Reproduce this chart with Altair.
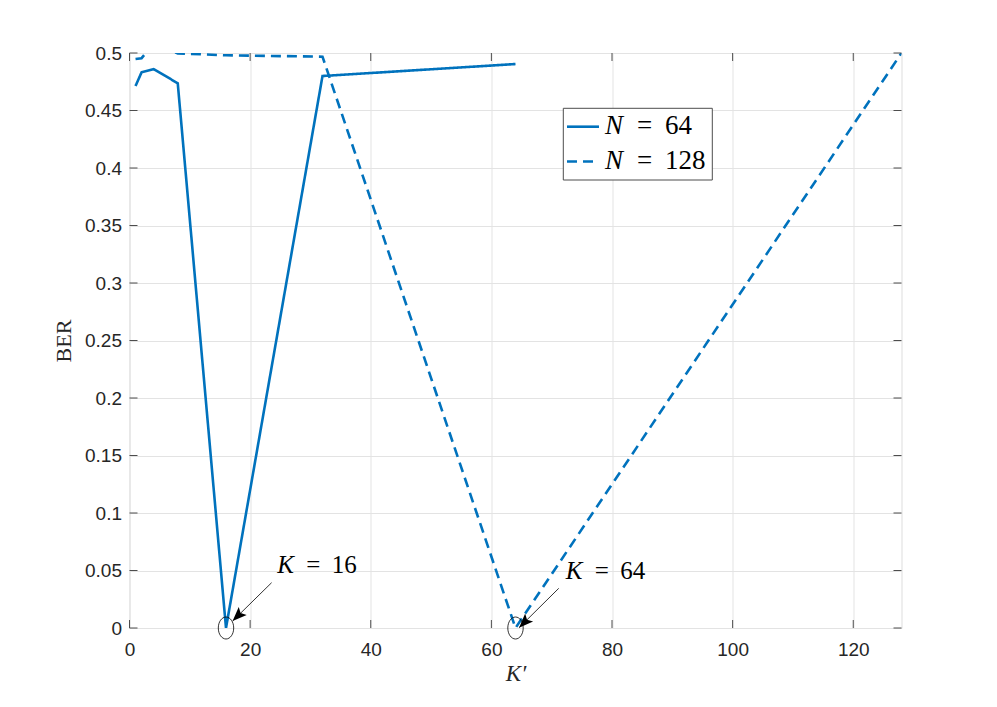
import altair as alt
import pandas as pd

# ---- data ----
k_64 = [1, 2, 4, 8, 16, 32, 64]
ber_64 = [0.4713, 0.4832, 0.4860, 0.4737, 0.0, 0.4800, 0.4904]
k_128 = [1, 2, 4, 8, 16, 32, 64, 128]
ber_128 = [0.4948, 0.4955, 0.508, 0.4997, 0.4980, 0.4968, 0.0, 0.5]
series = ["N = 64", "N = 128"]

x_ticks = [0, 20, 40, 60, 80, 100, 120]
y_ticks = [0, 0.05, 0.1, 0.15, 0.2, 0.25, 0.3, 0.35, 0.4, 0.45, 0.5]

# annotations
mark_k = [16, 64]
mark_ber = [0.0, 0.0]
note_k = [24.49, 72.33]
note_ber = [0.0474, 0.0430]
note_num = ["16", "64"]
tail_k = [23.56, 71.17]
tail_ber = [0.0394, 0.0345]
tip_k = [17.10, 64.59]
tip_ber = [0.0061, 0.0003]

legend_num = ["64", "128"]

# ---- styling ----
W, H = 772, 575
BLUE = "#0072BD"
AX = "#4d4d4d"
TXT = "#262626"
SANS = "Liberation Sans"
SERIF = "Liberation Serif"
LW = 2.6

xs = alt.Scale(domain=[0, 128], nice=False, zero=False)
ys = alt.Scale(domain=[0, 0.5], nice=False, zero=False)

df = pd.concat([
    pd.DataFrame({"x": k_64, "y": ber_64, "s": series[0]}),
    pd.DataFrame({"x": k_128, "y": ber_128, "s": series[1]}),
])

x_axis = alt.Axis(values=x_ticks, ticks=False, domain=False, grid=True,
                  gridColor="#e3e3e3", gridWidth=1, labelFlush=False,
                  labelFont=SANS, labelFontSize=19, labelColor=TXT, labelPadding=12,
                  title="K′", titleFont=SERIF, titleFontStyle="italic",
                  titleFontWeight="normal", titleFontSize=23, titleColor=TXT,
                  titlePadding=3)
y_axis = alt.Axis(values=y_ticks, ticks=False, domain=False, grid=True,
                  gridColor="#e3e3e3", gridWidth=1, format="~g", labelFlush=False,
                  labelFont=SANS, labelFontSize=19, labelColor=TXT, labelPadding=8,
                  title="BER", titleFont=SERIF, titleFontWeight="normal",
                  titleFontSize=22, titleColor=TXT, titlePadding=9)


def X(f="x"):
    return alt.X(f + ":Q", scale=xs, axis=x_axis)


def Y(f="y"):
    return alt.Y(f + ":Q", scale=ys, axis=y_axis)


lines = alt.Chart(df).mark_line(strokeWidth=LW, clip=True, color=BLUE,
                                strokeCap="butt").encode(
    x=X(), y=Y(),
    strokeDash=alt.StrokeDash("s:N", scale=alt.Scale(domain=series, range=[[1, 0], [10, 6]]),
                              legend=None),
    detail="s:N",
)

# inward ticks on all four sides
xt = pd.DataFrame({"x": x_ticks})
yt = pd.DataFrame({"y": y_ticks})
tick_b = alt.Chart(xt).mark_rule(color=AX, strokeWidth=1).encode(
    x=X(), y=alt.value(H), y2=alt.value(H - 8))
tick_t = alt.Chart(xt).mark_rule(color=AX, strokeWidth=1).encode(
    x=X(), y=alt.value(0), y2=alt.value(8))
tick_l = alt.Chart(yt).mark_rule(color=AX, strokeWidth=1).encode(
    y=Y(), x=alt.value(0), x2=alt.value(8))
tick_r = alt.Chart(yt).mark_rule(color=AX, strokeWidth=1).encode(
    y=Y(), x=alt.value(W), x2=alt.value(W - 8))

# annotations
ann = pd.DataFrame({"mx": mark_k, "my": mark_ber, "nx": note_k, "ny": note_ber,
                    "num": note_num, "tx": tail_k, "ty": tail_ber,
                    "hx": tip_k, "hy": tip_ber})
ellipses = alt.Chart(ann).mark_point(
    shape="M -0.7 0 A 0.7 1 0 1 0 0.7 0 A 0.7 1 0 1 0 -0.7 0 Z",
    size=484, filled=False, stroke="black", strokeWidth=0.8, opacity=1).encode(
    x=X("mx"), y=Y("my"))
arrow_lines = alt.Chart(ann).mark_rule(color="black", strokeWidth=0.8).encode(
    x=X("tx"), y=Y("ty"), x2=alt.X2("hx"), y2=alt.Y2("hy"))
arrow_heads = alt.Chart(ann).mark_point(
    shape="M 0 0 L 0.75 1.9 L 0 1.5 L -0.75 1.9 Z", size=225, filled=True,
    fill="black", strokeWidth=0, opacity=1, angle=225).encode(
    x=X("hx"), y=Y("hy"))
txt_kw = dict(fontSize=25, color="black", align="left", baseline="alphabetic")
note_K = alt.Chart(ann).mark_text(font=SERIF, fontStyle="italic", **txt_kw).encode(
    x=X("nx"), y=Y("ny"), text=alt.value("K"))
note_eq = alt.Chart(ann).mark_text(font=SERIF, dx=29, **txt_kw).encode(
    x=X("nx"), y=Y("ny"), text=alt.value("="))
note_n = alt.Chart(ann).mark_text(font=SERIF, dx=54.5, **txt_kw).encode(
    x=X("nx"), y=Y("ny"), text="num:N")

# legend (drawn inside the plot area, top right)
one = alt.Data(values=[{}])
leg_box = alt.Chart(one).mark_rect(fill="white", stroke=AX, strokeWidth=1).encode(
    x=alt.value(433.8), x2=alt.value(582.8), y=alt.value(55.3), y2=alt.value(127.0))
leg_l1 = alt.Chart(one).mark_rule(color=BLUE, strokeWidth=LW).encode(
    x=alt.value(437.5), x2=alt.value(469.5), y=alt.value(73.7))
leg_l2 = alt.Chart(one).mark_rule(color=BLUE, strokeWidth=LW, strokeDash=[10, 6],
                                  strokeCap="butt").encode(
    x=alt.value(437.5), x2=alt.value(465), y=alt.value(108.5))
leg_kw = dict(fontSize=27, color="black", align="left", baseline="alphabetic")
leg_layers = []
for num, ly in zip(legend_num, [80.5, 115.5]):
    leg_layers += [
        alt.Chart(one).mark_text(font=SERIF, fontStyle="italic", **leg_kw).encode(
            x=alt.value(475.5), y=alt.value(ly), text=alt.value("N")),
        alt.Chart(one).mark_text(font=SERIF, **leg_kw).encode(
            x=alt.value(507.5), y=alt.value(ly), text=alt.value("=")),
        alt.Chart(one).mark_text(font=SERIF, **leg_kw).encode(
            x=alt.value(535.5), y=alt.value(ly), text=alt.value(num)),
    ]

chart = alt.layer(
    lines, tick_b, tick_t, tick_l, tick_r,
    arrow_lines, arrow_heads, ellipses, note_K, note_eq, note_n,
    leg_box, leg_l1, leg_l2, *leg_layers,
).properties(
    width=W, height=H,
    autosize=alt.AutoSizeParams(type="none"),
    padding={"left": 121.5, "top": 45, "right": 87.5, "bottom": 71},
).configure_view(stroke=AX, strokeWidth=1).configure(background="white")

chart.save("out.html", embed_options={"renderer": "svg", "actions": False})
